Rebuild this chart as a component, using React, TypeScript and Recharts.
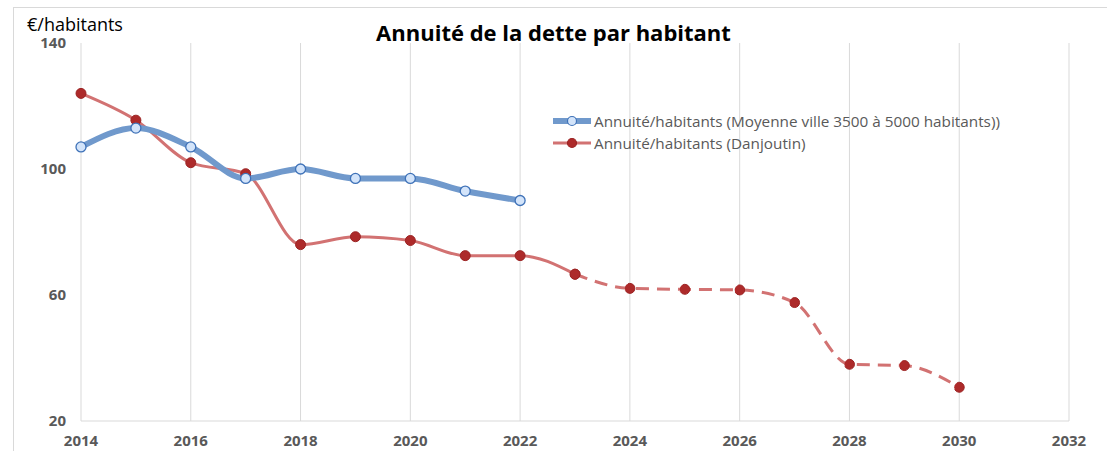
import { CartesianGrid, Line, LineChart, XAxis, YAxis } from "recharts";

const years = [2014, 2015, 2016, 2017, 2018, 2019, 2020, 2021, 2022, 2023, 2024, 2025, 2026, 2027, 2028, 2029, 2030];
const moyenne = [107, 113, 107, 97, 100, 97, 97, 93, 90, null, null, null, null, null, null, null, null];
const danjoutin = [124, 115.5, 102, 98.5, 76, 78.5, 77.3, 72.5, 72.5, 66.6, null, null, null, null, null, null, null];
const projection = [null, null, null, null, null, null, null, null, null, 66.6, 62.1, 61.8, 61.6, 57.6, 38, 37.6, 30.7];
const xTicks = [2014, 2016, 2018, 2020, 2022, 2024, 2026, 2028, 2030, 2032];
const yTicks = [20, 60, 100, 140];

const data = years.map((year, i) => ({
  year,
  moyenne: moyenne[i],
  danjoutin: danjoutin[i],
  projection: projection[i],
}));

const FONT = "'Open Sans', sans-serif";
const BLUE = "#7099cc";
const RED = "#d27272";

const legendItems = [
  { label: "Annuité/habitants (Moyenne ville 3500 à 5000 habitants))", color: BLUE, width: 6, dotFill: "#d3e4fa", dotStroke: "#3f72b8" },
  { label: "Annuité/habitants (Danjoutin)", color: RED, width: 3, dotFill: "#ad2a2a", dotStroke: "#9c2424" },
];

function ChartLegend() {
  return (
    <div
      style={{
        position: "absolute",
        left: 553,
        top: 110,
        fontFamily: FONT,
        fontSize: 15.3,
        color: "#595959",
        lineHeight: "22px",
        whiteSpace: "nowrap",
      }}
    >
      {legendItems.map((it) => (
        <div key={it.label} style={{ display: "flex", alignItems: "center" }}>
          <svg width={38} height={14} style={{ marginRight: 3 }}>
            <line x1={0} y1={7} x2={38} y2={7} stroke={it.color} strokeWidth={it.width} />
            <circle cx={19} cy={7} r={4.5} fill={it.dotFill} stroke={it.dotStroke} strokeWidth={1.2} />
          </svg>
          <span>{it.label}</span>
        </div>
      ))}
    </div>
  );
}

export default function App() {
  return (
    <div
      style={{
        position: "absolute",
        left: 0,
        top: 0,
        width: 1107,
        height: 451,
        background: "#fff",
        overflow: "hidden",
      }}
    >
      {/* chart frame: only its top and left edges fall inside the picture */}
      <div
        style={{
          position: "absolute",
          left: 13,
          top: 7,
          width: 1110,
          height: 460,
          border: "1px solid #d9d9d9",
          boxSizing: "border-box",
        }}
      />
      <LineChart width={1107} height={451} data={data} margin={{ top: 43, right: 38, left: 41, bottom: 0 }}>
        <CartesianGrid horizontal={false} stroke="#d9d9d9" />
        <XAxis
          dataKey="year"
          type="number"
          domain={[2014, 2032]}
          ticks={xTicks}
          height={30}
          tickLine={false}
          tickSize={0}
          tickMargin={14}
          stroke="#d9d9d9"
          tick={{ fontFamily: FONT, fontSize: 15, fontWeight: 700, fill: "#595959" }}
        />
        <YAxis
          domain={[20, 140]}
          ticks={yTicks}
          width={40}
          axisLine={false}
          tickLine={false}
          tickSize={0}
          tickMargin={15}
          tick={{ fontFamily: FONT, fontSize: 15, fontWeight: 700, fill: "#595959" }}
        />
        <Line
          type="monotone"
          dataKey="projection"
          stroke={RED}
          strokeWidth={3}
          strokeDasharray="13 8"
          dot={{ r: 5, fill: "#ad2a2a", stroke: "#9c2424", strokeWidth: 1 }}
          isAnimationActive={false}
        />
        <Line
          type="monotone"
          dataKey="danjoutin"
          stroke={RED}
          strokeWidth={3}
          dot={{ r: 5, fill: "#ad2a2a", stroke: "#9c2424", strokeWidth: 1 }}
          isAnimationActive={false}
        />
        <Line
          type="monotone"
          dataKey="moyenne"
          stroke={BLUE}
          strokeWidth={6}
          dot={{ r: 5, fill: "#d3e4fa", stroke: "#3f72b8", strokeWidth: 1.3 }}
          isAnimationActive={false}
        />
      </LineChart>
      <div
        style={{
          position: "absolute",
          left: 0,
          width: 1107,
          top: 17,
          textAlign: "center",
          fontFamily: FONT,
          fontWeight: 700,
          fontSize: 22,
          lineHeight: "30px",
          color: "#000",
        }}
      >
        Annuité de la dette par habitant
      </div>
      <div
        style={{
          position: "absolute",
          left: 27,
          top: 12,
          fontFamily: FONT,
          fontSize: 18,
          lineHeight: "24px",
          color: "#000",
        }}
      >
        €/habitants
      </div>
      <ChartLegend />
    </div>
  );
}
